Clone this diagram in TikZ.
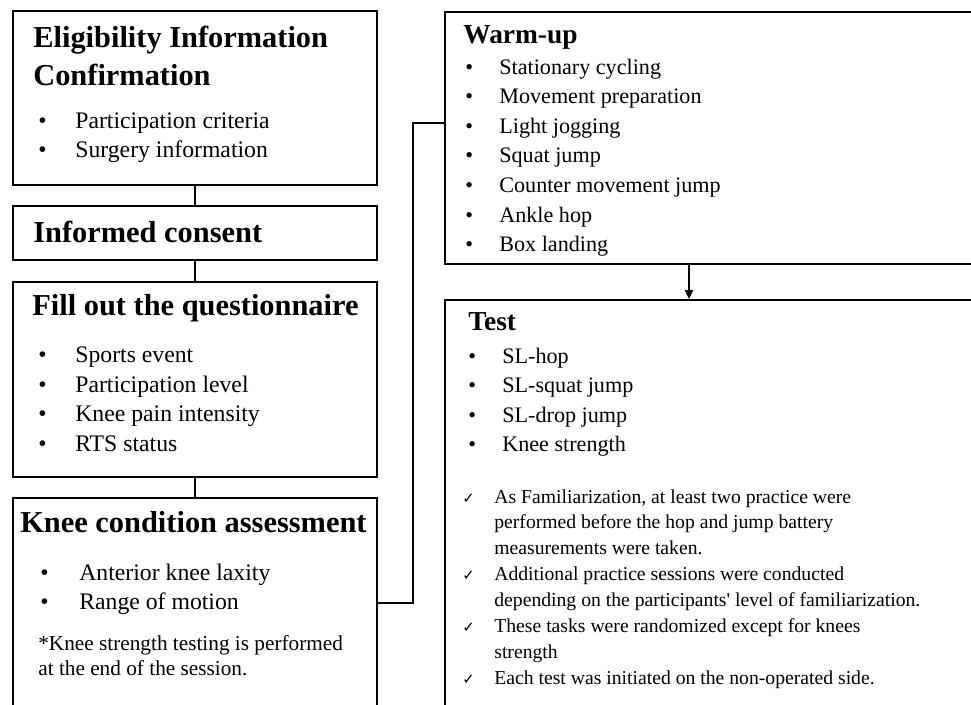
\documentclass[tikz,border=0pt]{standalone}
\usepackage{fontspec}
\setmainfont{Liberation Serif}
\newfontfamily\symfont{DejaVu Sans}
\usetikzlibrary{arrows.meta}

\tikzset{
  box/.style={draw, line width=1.1pt, anchor=north west, inner sep=0pt},
  head/.style={anchor=base west, inner sep=0pt, font=\fontsize{17.3}{20}\selectfont\bfseries},
  subhead/.style={anchor=base west, inner sep=0pt, font=\fontsize{15.6}{18}\selectfont\bfseries},
  item/.style={anchor=base west, inner sep=0pt, font=\fontsize{13.5}{16}\selectfont},
  ritem/.style={anchor=base west, inner sep=0pt, font=\fontsize{12.6}{15}\selectfont},
  note/.style={anchor=base west, inner sep=0pt, font=\fontsize{12.1}{14}\selectfont},
  cnote/.style={anchor=base west, inner sep=0pt, font=\fontsize{11.2}{14}\selectfont},
  tick/.style={anchor=base west, inner sep=0pt, font=\symfont\fontsize{8.5}{10}\selectfont},
  link/.style={line width=1.1pt},
}

\begin{document}
\begin{tikzpicture}[x=0.02cm, y=-0.02cm]
  \useasboundingbox (0,0) rectangle (971,704);
  \clip (0,0) rectangle (971,704);

  \node[box, minimum width=7.28cm, minimum height=3.48cm] (elig) at (12,10) {};
  \node[box, minimum width=7.28cm, minimum height=1.08cm] (consent) at (12,205) {};
  \node[box, minimum width=7.28cm, minimum height=3.9cm] (quest) at (12,281) {};
  \node[box, minimum width=7.28cm, minimum height=4.2cm] (knee) at (12,497) {};
  \node[box, minimum width=10.92cm, minimum height=5.04cm] (warm) at (444,11) {};
  \node[box, minimum width=10.92cm, minimum height=8.42cm] (test) at (444,299) {};

  \node[head] (eligA) at (33,47) {Eligibility Information};
  \node[head] (eligB) at (33,85) {Confirmation};
  \foreach \txt [count=\i] in {Participation criteria, Surgery information} {
    \node[item] (eb\i) at (38,{99+29*\i}) {•};
    \node[item] (e\i) at (75,{99+29*\i}) {\txt};
  }

  \node[head] (consentT) at (33,242) {Informed consent};

  \node[head] (questT) at (32,315) {Fill out the questionnaire};
  \foreach \txt [count=\i] in {Sports event, Participation level, Knee pain intensity, RTS status} {
    \node[item] (qb\i) at (38,{333.5+29.4*\i}) {•};
    \node[item] (q\i) at (75,{333.5+29.4*\i}) {\txt};
  }

  \node[head] (kneeT) at (20,532) {Knee condition assessment};
  \foreach \txt [count=\i] in {Anterior knee laxity, Range of motion} {
    \node[item] (kb\i) at (40,{552+28.5*\i}) {•};
    \node[item] (k\i) at (79,{552+28.5*\i}) {\txt};
  }
  \node[note] (kneeA) at (38,650) {*Knee strength testing is performed};
  \node[note] (kneeB) at (38,675) {at the end of the session.};

  \node[subhead] (warmT) at (463,43) {Warm-up};
  \foreach \txt [count=\i] in {Stationary cycling, Movement preparation, Light jogging, Squat jump, Counter movement jump, Ankle hop, Box landing} {
    \node[ritem] (wb\i) at (465,{44.4+29.6*\i}) {•};
    \node[ritem] (w\i) at (499,{44.4+29.6*\i}) {\txt};
  }

  \node[subhead] (testT) at (468,330) {Test};
  \foreach \txt [count=\i] in {SL-hop, SL-squat jump, SL-drop jump, Knee strength} {
    \node[ritem] (tb\i) at (468,{333.5+29.6*\i}) {•};
    \node[ritem] (t\i) at (502,{333.5+29.6*\i}) {\txt};
  }

  \node[tick] (c1) at (462,503) {✓};
  \node[cnote] (n1) at (494,503) {As Familiarization, at least two practice were};
  \node[cnote] (n2) at (494,528.5) {performed before the hop and jump battery};
  \node[cnote] (n3) at (494,554) {measurements were taken.};
  \node[tick] (c2) at (462,580) {✓};
  \node[cnote] (n4) at (494,580) {Additional practice sessions were conducted};
  \node[cnote] (n5) at (494,606) {depending on the participants\textquotesingle{} level of familiarization.};
  \node[tick] (c3) at (462,632) {✓};
  \node[cnote] (n6) at (494,632) {These tasks were randomized except for knees};
  \node[cnote] (n7) at (494,658) {strength};
  \node[tick] (c4) at (462,684) {✓};
  \node[cnote] (n8) at (494,684) {Each test was initiated on the non-operated side.};

  \coordinate (bend) at (413,123);
  \coordinate (drop) at (689,280);
  \begin{scope}[link]
    \draw (elig.south) -- (consent.north);
    \draw (consent.south) -- (quest.north);
    \draw (quest.south) -- (knee.north);
    \draw (knee.east) -| (bend) -- (bend -| warm.west);
    \draw[-{Triangle[length=5pt,width=4.5pt]}] (warm.south -| drop) -- (test.north -| drop);
  \end{scope}
\end{tikzpicture}
\end{document}
